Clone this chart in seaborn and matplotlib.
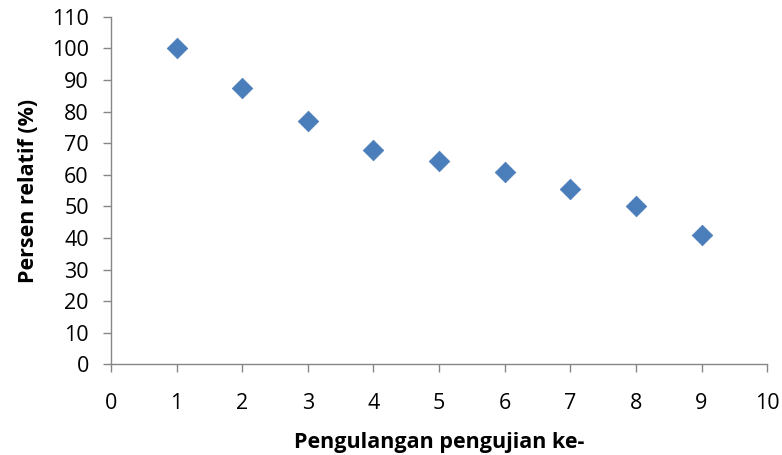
import matplotlib
matplotlib.use("Agg")
import matplotlib.pyplot as plt
import seaborn as sns
import pandas as pd

repetition = [1, 2, 3, 4, 5, 6, 7, 8, 9]
relative_percent = [100, 87.6, 76.9, 67.8, 64.3, 60.9, 55.4, 50.1, 40.9]
x_ticks = list(range(0, 11))
y_ticks = list(range(0, 111, 10))

sns.set_theme(style="white")
plt.rcParams['font.family'] = ['Open Sans', 'DejaVu Sans']
plt.rcParams['text.color'] = 'black'
plt.rcParams['axes.labelcolor'] = 'black'

df = pd.DataFrame({"x": repetition, "y": relative_percent})

fig = plt.figure(figsize=(7.82, 4.55), dpi=100)
ax = fig.add_axes([0.142, 0.199, 0.839, 0.764])
sns.scatterplot(data=df, x="x", y="y", ax=ax, marker="D", s=110,
                color="#4A7EBB", edgecolor="#4A7EBB", linewidth=0.5, zorder=3)

ax.set_xlim(0, 10)
ax.set_ylim(0, 110)
ax.set_xticks(x_ticks)
ax.set_yticks(y_ticks)
ax.tick_params(axis="both", which="major", labelsize=15.5, length=5.5, width=1,
               color="#868686", direction="out", labelcolor="black")
ax.tick_params(axis="x", pad=15)
ax.tick_params(axis="y", pad=10.5)
for side in ["top", "right"]:
    ax.spines[side].set_visible(False)
for side in ["left", "bottom"]:
    ax.spines[side].set_color("#868686")
    ax.spines[side].set_linewidth(1)
ax.xaxis.set_ticks_position("bottom")
ax.yaxis.set_ticks_position("left")

ax.set_xlabel("Pengulangan pengujian ke-", fontsize=15.5, fontweight="bold", labelpad=13)
ax.set_ylabel("Persen relatif (%)", fontsize=15.5, fontweight="bold", labelpad=9)
ax.grid(False)

fig.savefig("out.png", dpi=100)
